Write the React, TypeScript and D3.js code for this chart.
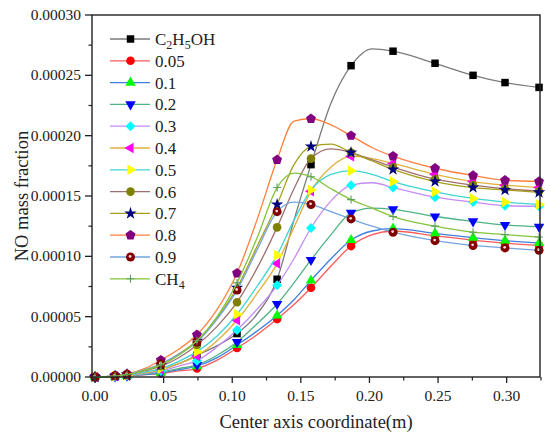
import React from "react";
import * as d3 from "d3";

// x positions of the sampled points (m) along the centre axis
const xPos = [
  0, 0.0146, 0.0233, 0.036, 0.048, 0.061, 0.0743, 0.089, 0.1035, 0.118, 0.1327,
  0.145, 0.1574, 0.172, 0.1866, 0.202, 0.2172, 0.2478, 0.2755, 0.2988, 0.3236,
];
// indices of xPos that carry a marker
const markerIdx = [0, 1, 2, 4, 6, 8, 10, 12, 14, 16, 17, 18, 19, 20];

// NO mass fraction, in units of 1e-5
const c2h5oh = [0, 0.05, 0.1, 0.3, 0.6, 1.1, 1.8, 2.6, 3.6, 5.2, 8.1, 13.0, 17.6, 22.7, 25.8, 27.2, 27.0, 26.0, 25.0, 24.4, 24.0];
const s005 = [0, 0.05, 0.1, 0.2, 0.3, 0.5, 0.7, 1.4, 2.4, 3.5, 4.8, 6.0, 7.4, 9.2, 10.85, 11.8, 12.1, 11.7, 11.35, 11.1, 10.9];
const s01 = [0, 0.05, 0.1, 0.2, 0.35, 0.6, 0.9, 1.6, 2.65, 3.8, 5.1, 6.4, 8.0, 9.8, 11.35, 12.1, 12.3, 11.9, 11.55, 11.3, 11.1];
const s02 = [0, 0.05, 0.1, 0.25, 0.4, 0.7, 1.0, 1.8, 2.9, 4.4, 6.05, 7.8, 9.7, 11.8, 13.6, 14.0, 13.9, 13.3, 12.9, 12.6, 12.45];
const s03 = [0, 0.05, 0.12, 0.3, 0.5, 0.9, 1.35, 2.5, 3.9, 5.6, 7.6, 9.8, 12.35, 14.6, 15.9, 16.1, 15.7, 14.9, 14.5, 14.2, 14.15];
const s04 = [0, 0.06, 0.15, 0.35, 0.6, 1.1, 1.75, 3.0, 4.7, 6.9, 9.4, 12.4, 15.4, 17.4, 18.3, 18.1, 17.7, 16.8, 16.2, 15.9, 15.7];
const s05 = [0, 0.06, 0.15, 0.4, 0.7, 1.3, 2.1, 3.4, 5.2, 7.5, 10.1, 13.0, 15.5, 16.8, 17.1, 16.8, 16.2, 15.35, 14.8, 14.5, 14.3];
const s06 = [0, 0.08, 0.2, 0.5, 0.9, 1.6, 2.65, 4.2, 6.2, 9.0, 12.4, 15.6, 18.1, 18.9, 18.6, 18.0, 17.4, 16.4, 15.9, 15.6, 15.4];
const s07 = [0, 0.08, 0.2, 0.6, 1.0, 1.9, 3.0, 4.9, 7.4, 10.8, 14.3, 17.6, 19.1, 19.3, 18.6, 17.9, 17.2, 16.2, 15.7, 15.5, 15.3];
const s08 = [0, 0.1, 0.25, 0.7, 1.4, 2.3, 3.5, 5.6, 8.6, 13.0, 18.0, 21.2, 21.4, 20.9, 20.0, 19.0, 18.3, 17.3, 16.7, 16.3, 16.2];
const s09 = [0, 0.1, 0.2, 0.6, 1.1, 1.9, 2.9, 4.8, 7.2, 10.5, 13.7, 14.5, 14.3, 13.7, 13.1, 12.5, 12.0, 11.3, 10.9, 10.7, 10.5];
const ch4 = [0, 0.08, 0.2, 0.55, 1.0, 1.8, 3.0, 5.0, 7.8, 11.5, 15.7, 16.9, 16.6, 15.6, 14.7, 14.0, 13.3, 12.5, 12.0, 11.8, 11.6];

const seriesValues = [c2h5oh, s005, s01, s02, s03, s04, s05, s06, s07, s08, s09, ch4];
const seriesNames = ["C2H5OH", "0.05", "0.1", "0.2", "0.3", "0.4", "0.5", "0.6", "0.7", "0.8", "0.9", "CH4"];
const lineColors = ["#7a7a7a", "#ff5a5a", "#3f7fe0", "#4fb384", "#c58cf5", "#e0b03c", "#3fd4d4", "#a0706e", "#a4a01c", "#ff8040", "#74a4e0", "#84c43c"];
const markerColors = ["#000000", "#ff0000", "#00ff00", "#0000ff", "#00ffff", "#ff00ff", "#ffff00", "#808000", "#000080", "#800080", "#800000", "#5aa05a"];
const markerKinds = ["square", "circle", "triUp", "triDown", "diamond", "triLeft", "triRight", "circle", "star", "pentagon", "sphere", "plus"];

const xTicks = [0, 0.05, 0.1, 0.15, 0.2, 0.25, 0.3];
const xMinor = [0.025, 0.075, 0.125, 0.175, 0.225, 0.275, 0.325];
const yTicks = [0, 0.00005, 0.0001, 0.00015, 0.0002, 0.00025, 0.0003];
const yMinor = [0.000025, 0.000075, 0.000125, 0.000175, 0.000225, 0.000275];

const W = 550;
const H = 443;
const left = 92, right = 540, top = 15, bottom = 377;
const font = "'Liberation Serif', 'Times New Roman', serif";

const x = d3.scaleLinear().domain([-0.0022, 0.3243]).range([left, right]);
const y = d3.scaleLinear().domain([0, 0.0003]).range([bottom, top]);

const line = d3
  .line<[number, number]>()
  .x((d) => x(d[0]))
  .y((d) => y(d[1]))
  .curve(d3.curveMonotoneX);

function pentagon(r: number) {
  const pts = d3.range(5).map((i) => {
    const a = -Math.PI / 2 + (i * 2 * Math.PI) / 5;
    return [r * Math.cos(a), r * Math.sin(a)];
  });
  return "M" + pts.map((p) => p.join(",")).join("L") + "Z";
}

function Marker({ kind, color, cx, cy }: { kind: string; color: string; cx: number; cy: number }) {
  const t = `translate(${cx},${cy})`;
  const tri = d3.symbol(d3.symbolTriangle, 48)()!;
  if (kind === "square") return <path transform={t} d={d3.symbol(d3.symbolSquare, 56)()!} fill={color} />;
  if (kind === "circle") return <circle cx={cx} cy={cy} r={4.3} fill={color} />;
  if (kind === "triUp") return <path transform={t} d={tri} fill={color} />;
  if (kind === "triDown") return <path transform={t + " rotate(180)"} d={tri} fill={color} />;
  if (kind === "triLeft") return <path transform={t + " rotate(-90)"} d={tri} fill={color} />;
  if (kind === "triRight") return <path transform={t + " rotate(90)"} d={tri} fill={color} />;
  if (kind === "diamond") return <path transform={t + " rotate(45)"} d={d3.symbol(d3.symbolSquare, 50)()!} fill={color} />;
  if (kind === "star") return <path transform={t} d={d3.symbol(d3.symbolStar, 48)()!} fill={color} />;
  if (kind === "pentagon") return <path transform={t} d={pentagon(5.2)} fill={color} />;
  if (kind === "sphere")
    return (
      <g transform={t}>
        <circle r={4.5} fill={color} />
        <circle cx={-0.4} cy={-0.6} r={1.4} fill="#ffffff" opacity={0.85} />
      </g>
    );
  return <path transform={t} d="M-4,0H4M0,-4V4" stroke={color} strokeWidth={1.1} fill="none" />;
}

function Label({ name }: { name: string }) {
  if (name === "C2H5OH")
    return (
      <>
        C<tspan dy={4} fontSize={12}>2</tspan>
        <tspan dy={-4}>H</tspan>
        <tspan dy={4} fontSize={12}>5</tspan>
        <tspan dy={-4}>OH</tspan>
      </>
    );
  if (name === "CH4")
    return (
      <>
        CH<tspan dy={4} fontSize={12}>4</tspan>
      </>
    );
  return <>{name}</>;
}

export default function App() {
  const fmtX = d3.format(".2f");
  const fmtY = d3.format(".5f");
  return (
    <svg width={W} height={H} style={{ position: "absolute", left: 0, top: 0, background: "#fff" }} fontFamily={font}>
      {/* series */}
      {seriesValues.map((vals, si) => {
        const pts = vals.map((v, i) => [xPos[i], v * 1e-5] as [number, number]);
        return (
          <g key={si}>
            <path d={line(pts)!} fill="none" stroke={lineColors[si]} strokeWidth={1.3} />
            {markerIdx.map((i) => (
              <Marker key={i} kind={markerKinds[si]} color={markerColors[si]} cx={x(pts[i][0])} cy={y(pts[i][1])} />
            ))}
          </g>
        );
      })}

      {/* frame */}
      <rect x={left} y={top} width={right - left} height={bottom - top} fill="none" stroke="#222" strokeWidth={1.4} />

      {/* x axis ticks */}
      {xTicks.map((t) => (
        <g key={t}>
          <line x1={x(t)} x2={x(t)} y1={bottom} y2={bottom + 6} stroke="#222" strokeWidth={1.3} />
          <text x={x(t)} y={bottom + 24} textAnchor="middle" fontSize={15.5} fill="#222">
            {fmtX(t)}
          </text>
        </g>
      ))}
      {xMinor.map((t) => (
        <line key={t} x1={x(t)} x2={x(t)} y1={bottom} y2={bottom + 3.5} stroke="#222" strokeWidth={1.2} />
      ))}

      {/* y axis ticks */}
      {yTicks.map((t) => (
        <g key={t}>
          <line x1={left - 7} x2={left} y1={y(t)} y2={y(t)} stroke="#222" strokeWidth={1.3} />
          <text x={left - 11} y={y(t) + 5} textAnchor="end" fontSize={15.5} fill="#222">
            {fmtY(t)}
          </text>
        </g>
      ))}
      {yMinor.map((t) => (
        <line key={t} x1={left - 3.5} x2={left} y1={y(t)} y2={y(t)} stroke="#222" strokeWidth={1.2} />
      ))}

      {/* axis titles */}
      <text x={(left + right) / 2} y={428} textAnchor="middle" fontSize={18.5} fill="#222">
        Center axis coordinate(m)
      </text>
      <text transform={`translate(28,${(top + bottom) / 2}) rotate(-90)`} textAnchor="middle" fontSize={18.5} fill="#222">
        NO mass fraction
      </text>

      {/* legend */}
      {seriesNames.map((name, si) => {
        const ly = 39 + si * 21.8;
        return (
          <g key={name}>
            <line x1={110} x2={150} y1={ly} y2={ly} stroke={lineColors[si]} strokeWidth={1.3} />
            <Marker kind={markerKinds[si]} color={markerColors[si]} cx={130.5} cy={ly} />
            <text x={155} y={ly + 6} fontSize={17} fill="#222">
              <Label name={name} />
            </text>
          </g>
        );
      })}
    </svg>
  );
}
